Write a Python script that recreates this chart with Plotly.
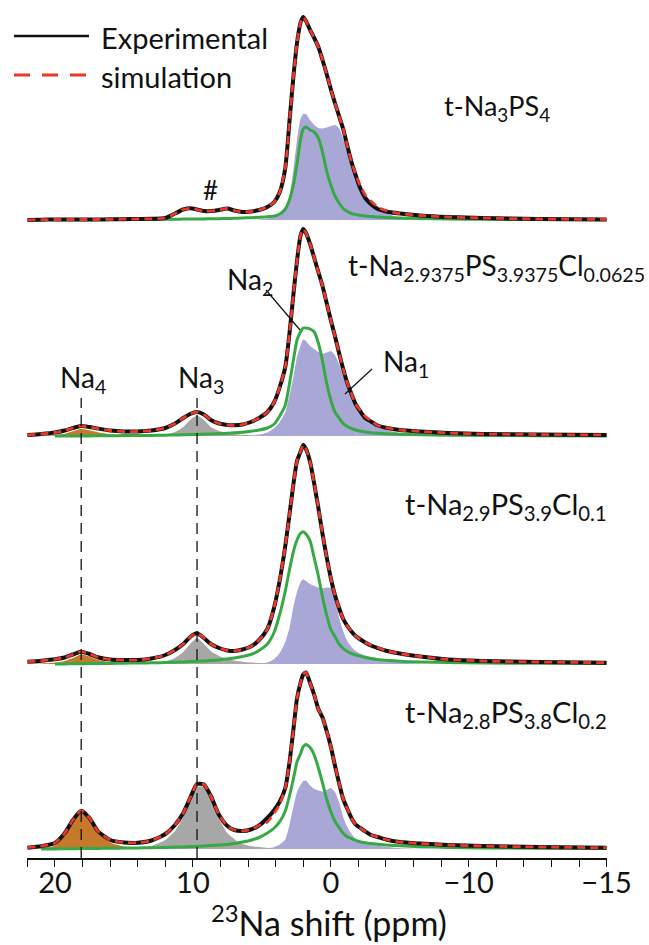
import plotly.graph_objects as go

# ---------------- data ----------------
PPM = [22, 21, 20, 19.3, 18.7, 18.1, 17.5, 16.9, 16, 15, 14, 13, 12, 11.3, 10.7, 10.2, 9.7, 9.2,
       8.7, 8.1, 7.5, 7.0, 6.4, 5.8, 5.2, 4.6, 4.1, 3.7, 3.3, 3.0, 2.7, 2.45, 2.2, 2.0, 1.8, 1.5,
       1.2, 0.9, 0.6, 0.3, 0.0, -0.3, -0.6, -0.9, -1.2, -1.5, -1.8, -2.1, -2.5, -2.9, -3.4, -4.0,
       -5.0, -6.5, -8.5, -11, -15, -20]

# panel 1 : t-Na3PS4
P1_EXP = [0, 0.3, 0.5, 0.5, 0.5, 0.5, 0.5, 0.5, 0.7, 0.8, 1, 1.2, 2, 6.5, 10.5, 11.7, 10.5, 9, 9, 10,
          11.5, 9.5, 8, 8.5, 10, 13, 18, 28, 52, 98, 145, 177, 197, 203, 199, 190, 182, 173, 160,
          146, 131, 117, 104, 91, 74, 58, 45, 33, 22, 16, 11, 8.5, 6.5, 4.5, 3, 2, 1, 0.5]
P1_SIM = [0, 0.3, 0.5, 0.5, 0.5, 0.5, 0.5, 0.5, 0.7, 0.8, 1, 1.2, 2, 6.5, 10.5, 11.7, 10.5, 9, 9, 10,
          11.5, 9.5, 8, 8.5, 10, 13, 18, 28, 52, 98, 145, 177, 197, 203, 199, 190, 182, 173, 160,
          146, 131, 117, 104, 91, 74, 58, 46, 35, 25, 19, 13, 9.5, 6.5, 4.5, 3, 2, 1, 0.5]
P1_NA2 = [None, None, 0.3, 0.3, 0.3, 0.3, 0.3, 0.4, 0.4, 0.5, 0.5, 0.6, 0.7, 0.8, 0.9, 1, 1, 1.1,
          1.2, 1.3, 1.5, 1.7, 2, 2.3, 2.7, 3.2, 4, 6, 11, 20, 36, 56, 80, 91, 93, 90, 88, 82, 68,
          49, 35, 24, 17, 11.5, 8.5, 6.5, 5.5, 4.8, 4, 3.5, 3, 2.6, 2, 1.5, 1, 0.7, 0.4, 0.2]
P1_NA1 = [0, 0, 0, 0, 0, 0, 0, 0, 0, 0, 0, 0, 0, 0, 0, 0, 0, 0, 0, 0, 0, 0, 0, 0,
          0.5, 1.5, 3.5, 6.5, 12, 23, 52, 80, 101, 106, 106, 100, 95, 92, 91.5, 92.5, 94, 95, 92,
          81, 67, 55, 44, 33, 24, 17, 9.5, 6.5, 2.5, 0.5, 0, 0, 0, 0]

# panel 2 : t-Na2.9375PS3.9375Cl0.0625
P2_EXP = [1, 2, 3.5, 5.5, 8, 10, 9, 7.5, 5.5, 4.5, 4.5, 5.5, 8, 12.5, 18, 22, 24, 21.5, 16, 12.5, 11,
          10.7, 11.5, 14, 18, 24, 34, 49, 69, 102, 143, 175, 200, 207, 203, 192, 178, 164, 150, 133,
          116, 100, 83, 67, 53, 42, 32, 25.5, 18, 14.5, 10.5, 8.3, 6, 4.5, 3, 2, 1.5, 1]
P2_SIM = [1, 2, 3.5, 5.5, 8, 10, 9, 7.5, 5.5, 4.5, 4.5, 5.5, 8, 12.5, 18, 22, 24, 21.5, 16, 12.5, 11,
          10.7, 11.5, 14, 18, 24, 34, 49, 69, 102, 143, 175, 200, 207, 203, 192, 178, 164, 150, 133,
          116, 100, 83, 67, 53, 42, 32, 26.5, 19.5, 15.5, 10.5, 8.3, 6, 4.5, 3, 2, 1.5, 1]
P2_NA2 = [None, None, 0, 0, 0, 0.1, 0.1, 0.2, 0.3, 0.4, 0.5, 0.6, 0.8, 1, 1.2, 1.4, 1.6, 1.8, 2.1,
          2.4, 2.8, 3.2, 3.8, 4.7, 6, 8, 12, 20, 31, 52, 77, 96, 104, 108, 108, 107, 104, 93, 75,
          53, 36, 24, 18, 12.3, 9.5, 7.5, 6, 5, 4, 3.3, 2.7, 2.2, 1.7, 1.2, 0.8, 0.5, 0.3, 0]
P2_NA1 = [0, 0, 0, 0, 0, 0, 0, 0, 0, 0, 0, 0, 0, 0, 0, 0, 0, 0, 0, 0, 0, 0, 0,
          0.5, 1.5, 3.5, 8, 14, 24, 40, 60, 79, 90, 96.5, 95, 90, 87, 84, 82.3, 83.5, 85, 81, 72,
          60.5, 49, 39, 29, 23, 17, 12, 8.5, 6.2, 3, 0.5, 0, 0, 0, 0]
P2_NA3 = [0, 0, 0, 0, 0, 0, 0, 0, 0, 0, 0, 0.3, 1.5, 4, 9, 16, 20.5, 16, 9, 5, 3, 2, 1.2, 0.7, 0.4,
          0.2, 0, 0, 0, 0, 0, 0, 0, 0, 0, 0, 0, 0, 0, 0, 0, 0, 0, 0, 0, 0, 0, 0, 0, 0, 0, 0, 0, 0,
          0, 0, 0, 0]
P2_NA4 = [0, 0.2, 0.8, 2.2, 4.8, 7, 5.8, 3.8, 1.8, 0.7, 0.3, 0.1, 0, 0, 0, 0, 0, 0, 0, 0, 0, 0, 0,
          0, 0, 0, 0, 0, 0, 0, 0, 0, 0, 0, 0, 0, 0, 0, 0, 0, 0, 0, 0, 0, 0, 0, 0, 0, 0, 0, 0, 0, 0,
          0, 0, 0, 0, 0]

# panel 3 : t-Na2.9PS3.9Cl0.1
P3_EXP = [2.3, 3.3, 4.7, 6.5, 9.5, 12.3, 10, 6.8, 4.5, 4, 4, 5.5, 9, 14, 20, 27, 30.7, 26, 20, 16,
          13.5, 13, 14.5, 17.5, 24, 35, 57, 84, 118, 149, 181, 203, 212, 219, 215, 202, 180, 156,
          130, 107, 86, 69, 56, 45, 38, 32.5, 28, 25, 21.5, 18.5, 16, 13.3, 10.5, 7.5, 4.5, 3, 2, 1.3]
P3_SIM = [2.3, 3.3, 4.7, 6.5, 9.5, 12.3, 10, 6.8, 4.5, 4, 4, 5.5, 9, 14, 20, 27, 30.7, 26, 20, 16,
          13.5, 13, 14.5, 17.5, 24, 35, 57, 84, 118, 149, 181, 203, 212, 219, 215, 202, 180, 156,
          130, 107, 86, 69, 56, 45, 38, 32.5, 28, 25, 21.5, 19, 16.5, 13.3, 10.5, 7.5, 4.5, 3, 2, 1.3]
P3_NA2 = [None, None, 0, 0.1, 0.2, 0.3, 0.4, 0.5, 0.6, 0.8, 1, 1.2, 1.5, 1.8, 2.1, 2.4, 2.7, 3.1,
          3.5, 4.1, 4.9, 5.9, 7.5, 9.5, 13.5, 20, 32, 50, 73, 94, 113, 124, 130.5, 132.3, 130, 123,
          106, 88, 67, 49, 34.5, 27.5, 20, 15.5, 12.5, 10.5, 9, 8, 6.5, 5.5, 4.6, 3.8, 2.8, 2, 1.4,
          1, 0.7, 0.4]
P3_NA1 = [0, 0, 0, 0, 0, 0, 0, 0, 0, 0, 0, 0, 0, 0, 0, 0, 0, 0, 0, 0, 0, 0, 0, 0,
          0.4, 1.5, 5, 11, 22, 36, 58, 72, 81.5, 84.7, 83, 80, 78, 76.5, 75.7, 76.5, 76, 66.5, 46.5,
          33, 23, 17, 13, 10.7, 8.5, 7, 5.5, 3.5, 1.5, 0.3, 0, 0, 0, 0]
P3_NA3 = [0, 0, 0, 0, 0, 0, 0, 0, 0, 0, 0.3, 0.8, 2.5, 6, 12, 20, 26, 20, 13, 8, 5, 3.5, 2.3, 1.5,
          1, 0.5, 0.2, 0, 0, 0, 0, 0, 0, 0, 0, 0, 0, 0, 0, 0, 0, 0, 0, 0, 0, 0, 0, 0, 0, 0, 0, 0,
          0, 0, 0, 0, 0, 0]
P3_NA4 = [0.2, 0.5, 1.2, 3, 6, 9.5, 7.5, 4.2, 1.8, 0.8, 0.3, 0.1, 0, 0, 0, 0, 0, 0, 0, 0, 0, 0, 0,
          0, 0, 0, 0, 0, 0, 0, 0, 0, 0, 0, 0, 0, 0, 0, 0, 0, 0, 0, 0, 0, 0, 0, 0, 0, 0, 0, 0, 0, 0,
          0, 0, 0, 0, 0]

# panel 4 : t-Na2.8PS3.8Cl0.2
P4_EXP = [1.3, 2.8, 6, 15.7, 29, 38.3, 31, 18, 9, 6.5, 6.3, 8.5, 15, 24, 36, 51, 65, 64.5, 53, 34,
          23, 19, 18, 19.5, 23.5, 31, 39, 47.5, 61, 86, 121, 150.5, 166, 174.5, 176.5, 166, 154,
          140, 131.5, 118, 102.5, 83.5, 66, 50, 40, 31, 24.5, 21.5, 17.5, 14, 12, 9.5, 7, 5.5, 4,
          3, 2, 1.3]
P4_SIM = [1.3, 2.8, 6, 15.7, 29, 38.3, 31, 18, 9, 6.5, 6.3, 8.5, 15, 24, 36, 51, 65, 64.5, 53, 34,
          23, 19, 18, 19.5, 23.5, 27, 36, 45, 61, 86, 121, 150.5, 166, 174.5, 176.5, 166, 154,
          140, 131.5, 118, 102.5, 83.5, 66, 50, 40, 31, 24.5, 21.5, 17.5, 14, 12, 9.5, 7, 5.5, 4,
          3, 2, 1.3]
P4_NA2 = [None, 0, 0.1, 0.2, 0.3, 0.4, 0.5, 0.6, 0.7, 0.9, 1.1, 1.3, 1.6, 1.9, 2.1, 2.4, 2.7, 3,
          3.4, 3.9, 4.6, 5.4, 7, 8.8, 11.5, 16, 21, 27.3, 38, 53, 71, 87, 95, 102.3, 104.5, 101.5,
          94, 81, 66, 50, 37.4, 27.8, 21.5, 15.7, 12.3, 10.3, 8.6, 7.3, 6.2, 5.4, 4.7, 4.1, 3.2,
          2.3, 1.6, 1.1, 0.7, 0.4]
P4_NA1 = [0, 0, 0, 0, 0, 0, 0, 0, 0, 0, 0, 0, 0, 0, 0, 0, 0, 0, 0, 0, 0, 0, 0, 0, 0,
          0.5, 2, 4.5, 9.5, 24, 43, 57, 64, 68, 68.5, 63.5, 60, 58.5, 57.5, 59, 61, 57, 47, 32,
          22, 15, 10.5, 8.2, 6.3, 4.8, 3.5, 2.2, 0.8, 0.2, 0, 0, 0, 0]
P4_NA3 = [0, 0, 0, 0, 0, 0, 0, 0, 0, 0, 0, 3, 9, 18, 32, 48, 62, 62, 49, 30, 16, 10, 5, 3, 2,
          1.2, 0.6, 0.3, 0, 0, 0, 0, 0, 0, 0, 0, 0, 0, 0, 0, 0, 0, 0, 0, 0, 0, 0, 0, 0, 0, 0,
          0, 0, 0, 0, 0, 0, 0]
P4_NA4 = [0, 0.5, 3.5, 13, 27, 36.5, 29, 16, 6.5, 2.5, 1, 0.4, 0, 0, 0, 0, 0, 0, 0, 0, 0, 0, 0, 0,
          0, 0, 0, 0, 0, 0, 0, 0, 0, 0, 0, 0, 0, 0, 0, 0, 0, 0, 0, 0, 0, 0, 0, 0, 0, 0, 0, 0, 0, 0,
          0, 0, 0, 0]

PANEL_LABELS = ["t-Na<sub>3</sub>PS<sub>4</sub>",
                "t-Na<sub>2.9375</sub>PS<sub>3.9375</sub>Cl<sub>0.0625</sub>",
                "t-Na<sub>2.9</sub>PS<sub>3.9</sub>Cl<sub>0.1</sub>",
                "t-Na<sub>2.8</sub>PS<sub>3.8</sub>Cl<sub>0.2</sub>"]
SITE_SHIFTS = [18.1, 9.7]          # Na4, Na3 guide lines (ppm)
TICK_VALS = [20, 10, 0, -10, -20]
TICK_TEXT = ["20", "10", "0", "\u221210", "\u221215"]
LEGEND_NAMES = ["Experimental", "simulation"]

# ---------------- styling / layout ----------------
W, H = 649, 945
ML, MR, MT, MB = 27, 42, 0, 87
PW, PH = W - ML - MR, H - MT - MB
BASE_PX = [220, 436, 664, 849]      # pixel row of each spectrum baseline
FONT = "Lato"
BLACK, RED, GREEN = "#111111", "#e8372b", "#36a945"
LAV, GRAY, ORANGE = "#a9a7d6", "#a7a7a7", "#c47a2a"


def pp(x, y):
    """pixel -> paper coordinates"""
    return (x - ML) / PW, (H - MB - y) / PH


panels = [
    (P1_EXP, P1_SIM, P1_NA1, P1_NA2, None, None),
    (P2_EXP, P2_SIM, P2_NA1, P2_NA2, P2_NA3, P2_NA4),
    (P3_EXP, P3_SIM, P3_NA1, P3_NA2, P3_NA3, P3_NA4),
    (P4_EXP, P4_SIM, P4_NA1, P4_NA2, P4_NA3, P4_NA4),
]

fig = go.Figure()
spl = dict(shape="spline", smoothing=0.6)
for i, (exp, sim, na1, na2, na3, na4) in enumerate(panels):
    yref = "y" if i == 0 else f"y{i + 1}"
    for vals, col in ((na4, ORANGE), (na3, GRAY), (na1, LAV)):
        if vals is None:
            continue
        fig.add_trace(go.Scatter(x=PPM, y=vals, mode="lines", yaxis=yref,
                                 line=dict(width=0, **spl), fill="tozeroy",
                                 fillcolor=col, hoverinfo="skip", showlegend=False))
    fig.add_trace(go.Scatter(x=PPM, y=na2, mode="lines", yaxis=yref,
                             line=dict(color=GREEN, width=3, **spl), showlegend=False))
    fig.add_trace(go.Scatter(x=PPM, y=exp, mode="lines", yaxis=yref, name=LEGEND_NAMES[0],
                             line=dict(color=BLACK, width=4, **spl), showlegend=False))
    fig.add_trace(go.Scatter(x=PPM, y=sim, mode="lines", yaxis=yref, name=LEGEND_NAMES[1],
                             line=dict(color=RED, width=2.8, dash="8px,5px", **spl),
                             showlegend=False))

layout = dict(
    width=W, height=H, margin=dict(l=ML, r=MR, t=MT, b=MB),
    paper_bgcolor="white", plot_bgcolor="white", showlegend=False,
    font=dict(family=FONT, color=BLACK),
    xaxis=dict(range=[22.03, -20.03], tickvals=TICK_VALS, ticktext=TICK_TEXT,
               ticks="outside", ticklen=7, tickwidth=1.3, tickcolor=BLACK,
               showline=True, linecolor=BLACK, linewidth=1.5, showgrid=False,
               zeroline=False, tickfont=dict(size=29, family=FONT, color=BLACK),
               ticklabelstandoff=-9,
               minor=dict(dtick=2, tick0=0, ticks="outside", ticklen=7, tickwidth=1.3,
                          tickcolor=BLACK, showgrid=False),
               anchor="y"),
)
for i, b in enumerate(BASE_PX):
    key = "yaxis" if i == 0 else f"yaxis{i + 1}"
    ax = dict(range=[-(PH - b), b], visible=False, showgrid=False, zeroline=False)
    if i > 0:
        ax["overlaying"] = "y"
    layout[key] = ax
fig.update_layout(**layout)

shapes = []
# guide lines at Na4 / Na3 shifts
for s in SITE_SHIFTS:
    shapes.append(dict(type="line", xref="x", yref="paper", x0=s, x1=s, y0=0,
                       y1=pp(0, 398)[1], line=dict(color=BLACK, width=1.3, dash="11px,7px"),
                       layer="above"))
# leader lines for Na2 and Na1
for (xa, ya, xb, yb) in ((266, 290, 300, 330), (372, 369, 345, 394)):
    p0, p1 = pp(xa, ya), pp(xb, yb)
    shapes.append(dict(type="line", xref="paper", yref="paper", x0=p0[0], y0=p0[1],
                       x1=p1[0], y1=p1[1], line=dict(color=BLACK, width=1.2)))
# legend samples
for (yy, col, dash, wd) in ((36, BLACK, "solid", 2.6), (75, RED, "16px,12px", 3)):
    a, b = pp(14, yy), pp(89, yy)
    shapes.append(dict(type="line", xref="paper", yref="paper", x0=a[0], y0=a[1],
                       x1=b[0], y1=b[1], line=dict(color=col, width=wd, dash=dash)))
fig.update_layout(shapes=shapes)

ann = []


def add_text(txt, x, y, size, xanchor="left", yanchor="middle"):
    px_, py_ = pp(x, y)
    ann.append(dict(text=txt, x=px_, y=py_, xref="paper", yref="paper", showarrow=False,
                    xanchor=xanchor, yanchor=yanchor,
                    font=dict(family=FONT, size=size, color=BLACK)))


add_text(LEGEND_NAMES[0], 99, 37, 29)
add_text(LEGEND_NAMES[1], 99, 76, 29)
for lab, (x, y, sz) in zip(PANEL_LABELS, [(442, 108, 27), (346, 267, 28),
                                          (403, 505, 29), (403, 713, 29)]):
    add_text(lab, x, y, sz)
add_text("Na<sub>2</sub>", 225, 281, 28)
add_text("Na<sub>1</sub>", 381, 363, 28)
add_text("Na<sub>4</sub>", 58, 379, 28)
add_text("Na<sub>3</sub>", 176, 379, 28)
add_text("#", 210, 190, 26, xanchor="center")
add_text("<sup>23</sup>Na shift (ppm)", 329, 921, 34, xanchor="center")
fig.update_layout(annotations=ann)

# the page body gets no default margin so the figure sits at the window origin
fig.write_html("out.html", config={"displayModeBar": False},
               post_script="document.body.style.margin='0px';")
